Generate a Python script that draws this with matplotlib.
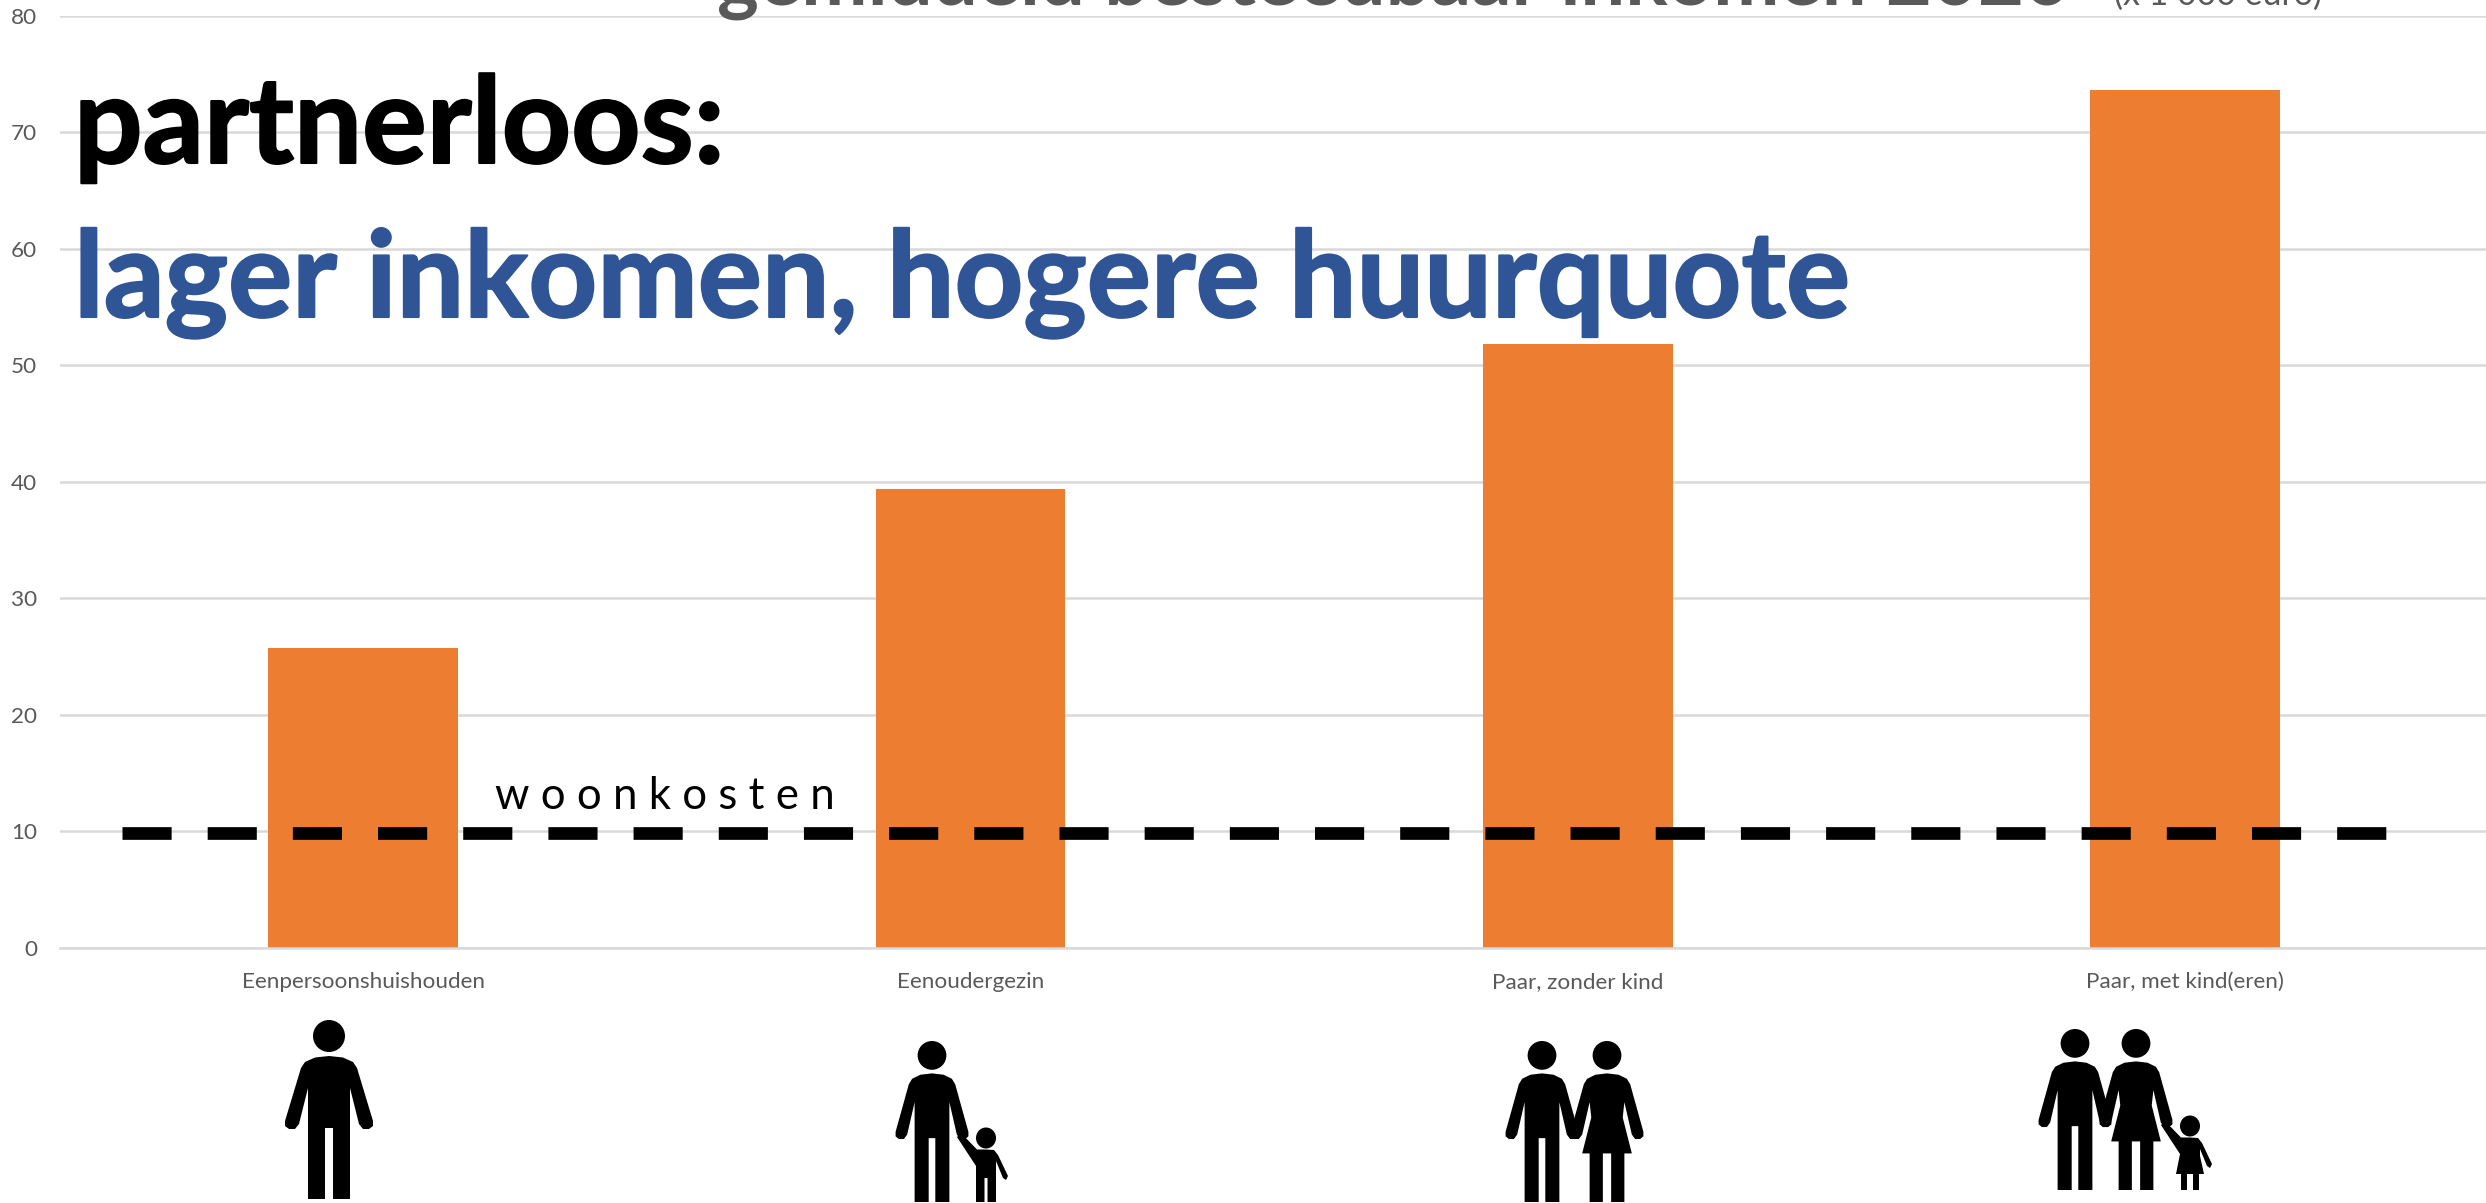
#!/usr/bin/env python3
# Average disposable income per household type, with pictograms below the axis.
import matplotlib
matplotlib.use("Agg")
import matplotlib.pyplot as plt  # noqa: E402
import matplotlib.patheffects as pe  # noqa: E402
from matplotlib.patches import Ellipse, Polygon  # noqa: E402

W, H = 2486, 1203
DPI = 100

categories = ["Eenpersoonshuishouden", "Eenoudergezin", "Paar, zonder kind", "Paar, met kind(eren)"]
income = [25.7, 39.4, 51.8, 73.6]
housing_cost = 9.9
y_ticks = [0, 10, 20, 30, 40, 50, 60, 70, 80]

GREY = "#595959"
ORANGE = "#ED7D31"
BLUE = "#2F5597"


def mirrored(half):
    return [(-x, y) for x, y in half] + [(x, y) for x, y in reversed(half)]


# Pictogram outlines, drawn in units where a full figure is 179 tall
MAN = mirrored([(0, 36), (-14, 37.5), (-24, 42), (-28, 48), (-44, 101), (-44, 106), (-40, 109),
                (-34, 109), (-30, 104), (-21, 68), (-21, 179), (-4, 179), (-4, 108), (0, 108)])
WOMAN = mirrored([(0, 36), (-14, 37.5), (-24, 42), (-28, 48), (-44, 101), (-44, 106), (-40, 109),
                  (-34, 109), (-30, 104), (-21, 68), (-19, 85), (-30, 125), (-21, 125), (-21, 179),
                  (-5, 179), (-5, 125), (0, 125)])
BOY = [(0, 21.5), (8, 22), (12, 27), (22, 48), (20, 52), (17, 50), (10, 33), (10, 74), (1.5, 74),
       (1.5, 50), (-1.5, 50), (-1.5, 74), (-10, 74), (-10, 38), (-29, 9), (-25, 5), (-9, 21.5)]
GIRL = [(0, 21.5), (8, 22), (12, 27), (22, 48), (20, 52), (17, 50), (10, 33), (10, 40), (14, 58),
        (9, 58), (9, 74), (3, 74), (3, 58), (-3, 58), (-3, 74), (-9, 74), (-9, 58), (-14, 58), (-10, 38),
        (-29, 9), (-25, 5), (-9, 21.5)]


def draw_adult(ax, cx, top, height, outline, squeeze=1.0):
    s = height / 179
    ax.add_patch(Ellipse((cx, top + 16 * s), 32 * s, 32 * s, color="black", lw=0))
    ax.add_patch(Polygon([(cx + x * s * squeeze, top + y * s) for x, y in outline], color="black", lw=0))


def draw_child(ax, cx, top, outline):
    ax.add_patch(Ellipse((cx, top + 10), 20, 21, color="black", lw=0))
    ax.add_patch(Polygon([(cx + x, top + y) for x, y in outline], color="black", lw=0))


def main():
    plt.rcParams["font.family"] = ["Lato", "DejaVu Sans"]
    fig = plt.figure(figsize=(W / DPI, H / DPI), dpi=DPI)

    left, right, top, bottom = 59.5, 2489, 15.5, 948
    ax = fig.add_axes([left / W, 1 - bottom / H, (right - left) / W, (bottom - top) / H])
    ax.set_axisbelow(True)
    ax.grid(True, axis="y", color="#D9D9D9", linewidth=1.8)
    pos = list(range(len(categories)))
    ax.bar(pos, income, width=0.3125, color=ORANGE, zorder=2)
    ax.plot([-0.397, 3.335], [housing_cost, housing_cost], color="black", linewidth=9.14,
            dashes=(3.87, 2.84), dash_capstyle="butt", zorder=3)
    ax.set_xlim(-0.5, 3.5)
    ax.set_ylim(0, 80)
    ax.set_yticks(y_ticks)
    ax.set_xticks(pos)
    ax.set_xticklabels(categories)
    ax.tick_params(length=0, labelcolor=GREY, labelsize=16.2)
    ax.tick_params(axis="x", pad=17.5)
    ax.tick_params(axis="y", pad=16)
    for s in ["top", "right", "left"]:
        ax.spines[s].set_visible(False)
    ax.spines["bottom"].set_color("#D9D9D9")
    ax.spines["bottom"].set_linewidth(1.8)

    # Overlay in pixel coordinates for headlines and pictograms
    ov = fig.add_axes([0, 0, 1, 1], facecolor="none")
    ov.set_xlim(0, W)
    ov.set_ylim(H, 0)
    ov.axis("off")

    head1 = ov.text(74, 163, "partnerloos:", fontsize=87, fontweight="bold", color="black", va="baseline")
    head2 = ov.text(74, 317, "lager inkomen, hogere huurquote", fontsize=86.4, fontweight="bold", color=BLUE,
                    va="baseline")
    head1.set_path_effects([pe.withStroke(linewidth=1.5, foreground="black")])
    head2.set_path_effects([pe.withStroke(linewidth=1.5, foreground=BLUE)])
    ov.text(717, 5, "gemiddeld besteedbaar inkomen 2020", fontsize=57.2, fontweight="bold", color=GREY,
            va="baseline")
    ov.text(2114, 5, "(x 1 000 euro)", fontsize=24.5, color=GREY, va="baseline")
    ov.text(495, 809, "w o o n k o s t e n", fontsize=31.6, color="black", va="baseline")

    draw_adult(ov, 329, 1020, 179, MAN)
    draw_adult(ov, 932, 1041, 161, MAN, squeeze=0.92)
    draw_child(ov, 986, 1128, BOY)
    draw_adult(ov, 1542, 1041, 161, MAN, squeeze=0.92)
    draw_adult(ov, 1607, 1041, 161, WOMAN, squeeze=0.92)
    draw_adult(ov, 2075, 1029, 161, MAN, squeeze=0.92)
    draw_adult(ov, 2136, 1029, 161, WOMAN, squeeze=0.92)
    draw_child(ov, 2190, 1116, GIRL)

    fig.savefig("out.png", dpi=DPI)
    return 0


if __name__ == "__main__":
    raise SystemExit(main())
